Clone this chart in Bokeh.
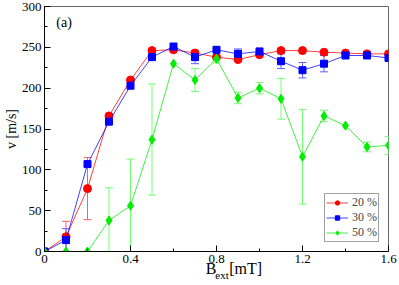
import numpy as np
from bokeh.plotting import figure
from bokeh.layouts import column
from bokeh.models import (ColumnDataSource, Whisker, TeeHead, Label, Legend,
                          SingleIntervalTicker, Range1d)
from bokeh.embed import file_html
from bokeh.resources import INLINE

# ---- data ----
b_ext = [0.0, 0.1, 0.2, 0.3, 0.4, 0.5, 0.6, 0.7, 0.8, 0.9, 1.0, 1.1, 1.2, 1.3, 1.4, 1.5, 1.6]

v20 = [0, 18, 77, 166, 210, 246, 247, 243, 238, 235, 241, 246, 246, 244, 243, 242, 242]
e20 = [0, 19, 38, 0, 0, 0, 0, 0, 0, 0, 0, 0, 0, 0, 0, 0, 0]

v30 = [0, 14, 107, 159, 203, 238, 251, 238, 247, 242, 245, 233, 222, 230, 240, 240, 237]
e30 = [0, 14, 0, 0, 0, 0, 0, 8, 0, 6, 0, 9, 9.5, 10, 0, 0, 0]

v50 = [0, 0, 0, 38, 56, 137, 230, 210, 236, 188, 200, 187, 116, 166, 154, 128, 130]
e50 = [0, 0, 0, 40, 57, 68, 0, 14, 5, 7, 7, 25, 58, 7, 0, 6, 11]

series_labels = ["20 %", "30 %", "50 %"]
x_ticks_labels = {0: "0"}
y_title = "v [m/s]"
x_title = ("B", "ext", "[mT]")
panel_tag = "(a)"

FONT = "Liberation Serif"

p = figure(frame_width=344, frame_height=245, output_backend="svg",
           toolbar_location=None, x_range=Range1d(0, 1.6), y_range=Range1d(0, 300),
           min_border_top=6, min_border_right=9, min_border_bottom=10, min_border_left=10)
p.grid.visible = False
p.outline_line_color = "#666666"
p.outline_line_width = 1
p.background_fill_color = "white"
p.border_fill_color = "white"

for ax in (p.xaxis[0], p.yaxis[0]):
    ax.axis_line_color = "black"
    ax.major_tick_in = 6
    ax.major_tick_out = 0
    ax.minor_tick_in = 3
    ax.minor_tick_out = 0
    ax.major_tick_line_color = "black"
    ax.minor_tick_line_color = "black"
    ax.major_label_text_font = FONT
    ax.major_label_text_font_size = "13px"
    ax.major_label_text_color = "black"
    ax.major_label_standoff = 3

p.xaxis.ticker = SingleIntervalTicker(interval=0.4, num_minor_ticks=2)
p.yaxis.ticker = SingleIntervalTicker(interval=50, num_minor_ticks=2)
p.xaxis.major_label_overrides = x_ticks_labels

p.yaxis.axis_label = y_title
p.yaxis.axis_label_text_font = FONT
p.yaxis.axis_label_text_font_style = "normal"
p.yaxis.axis_label_text_font_size = "14px"
p.yaxis.axis_label_text_color = "black"
p.yaxis.axis_label_standoff = 0

colors = ["#ff0000", "#0000ff", "#00ee00"]
err_colors = ["#ff6060", "#6060ff", "#70ff70"]
markers = ["circle", "square", "diamond"]
sizes = [8, 7, 9]
values = [v20, v30, v50]
errors = [e20, e30, e50]

items = []
x = np.array(b_ext)
for vals, errs, c, ec, m, s, lab in zip(values, errors, colors, err_colors, markers, sizes, series_labels):
    vals = np.array(vals, dtype=float)
    errs = np.array(errs, dtype=float)
    mask = errs > 0
    lo = np.clip(vals[mask] - errs[mask], 0, None)
    hi = vals[mask] + errs[mask]
    src = ColumnDataSource(dict(x=x[mask], lo=lo, hi=hi))
    w = Whisker(source=src, base="x", upper="hi", lower="lo", line_color=ec, line_width=1,
                upper_head=TeeHead(size=8, line_color=ec, line_width=1),
                lower_head=TeeHead(size=8, line_color=ec, line_width=1))
    p.add_layout(w)
    r1 = p.line(x, vals, line_color=c, line_width=1, line_alpha=0.75)
    r2 = p.scatter(x, vals, marker=m, size=s, fill_color=c, line_color=c)
    items.append((lab, [r1, r2]))

legend = Legend(items=items, location="bottom_right")
legend.label_text_font = FONT
legend.label_text_font_size = "12px"
legend.label_height = 11
legend.glyph_height = 11
legend.glyph_width = 22
legend.spacing = 0
legend.padding = 1
legend.margin = 9
legend.label_standoff = 4
legend.border_line_color = "#444444"
legend.border_line_width = 1
legend.background_fill_alpha = 1
p.add_layout(legend, "center")

# panel tag
p.add_layout(Label(x=0.055, y=280, text=panel_tag, text_font=FONT, text_font_size="14px",
                   text_baseline="middle", text_color="black"))

# transparent strip overlapping the bottom of the plot, carrying the x-axis title
t = figure(width=399, height=25, output_backend="svg", toolbar_location=None,
           x_range=Range1d(0, 399), y_range=Range1d(0, 25),
           x_axis_type=None, y_axis_type=None, min_border=0)
t.margin = (-10, 0, 0, 0)
t.grid.visible = False
t.outline_line_color = None
t.border_fill_color = None
t.background_fill_color = None
t.add_layout(Label(x=186, y=12, text=x_title[0], text_font=FONT, text_font_size="16px",
                   text_baseline="middle", text_color="black"))
t.add_layout(Label(x=197, y=5.5, text=x_title[1], text_font=FONT, text_font_size="11px",
                   text_baseline="middle", text_color="black"))
t.add_layout(Label(x=213, y=12, text=x_title[2], text_font=FONT, text_font_size="16px",
                   text_baseline="middle", text_color="black"))

layout = column(p, t, spacing=0)
open("out.html", "w").write(file_html(layout, INLINE))
